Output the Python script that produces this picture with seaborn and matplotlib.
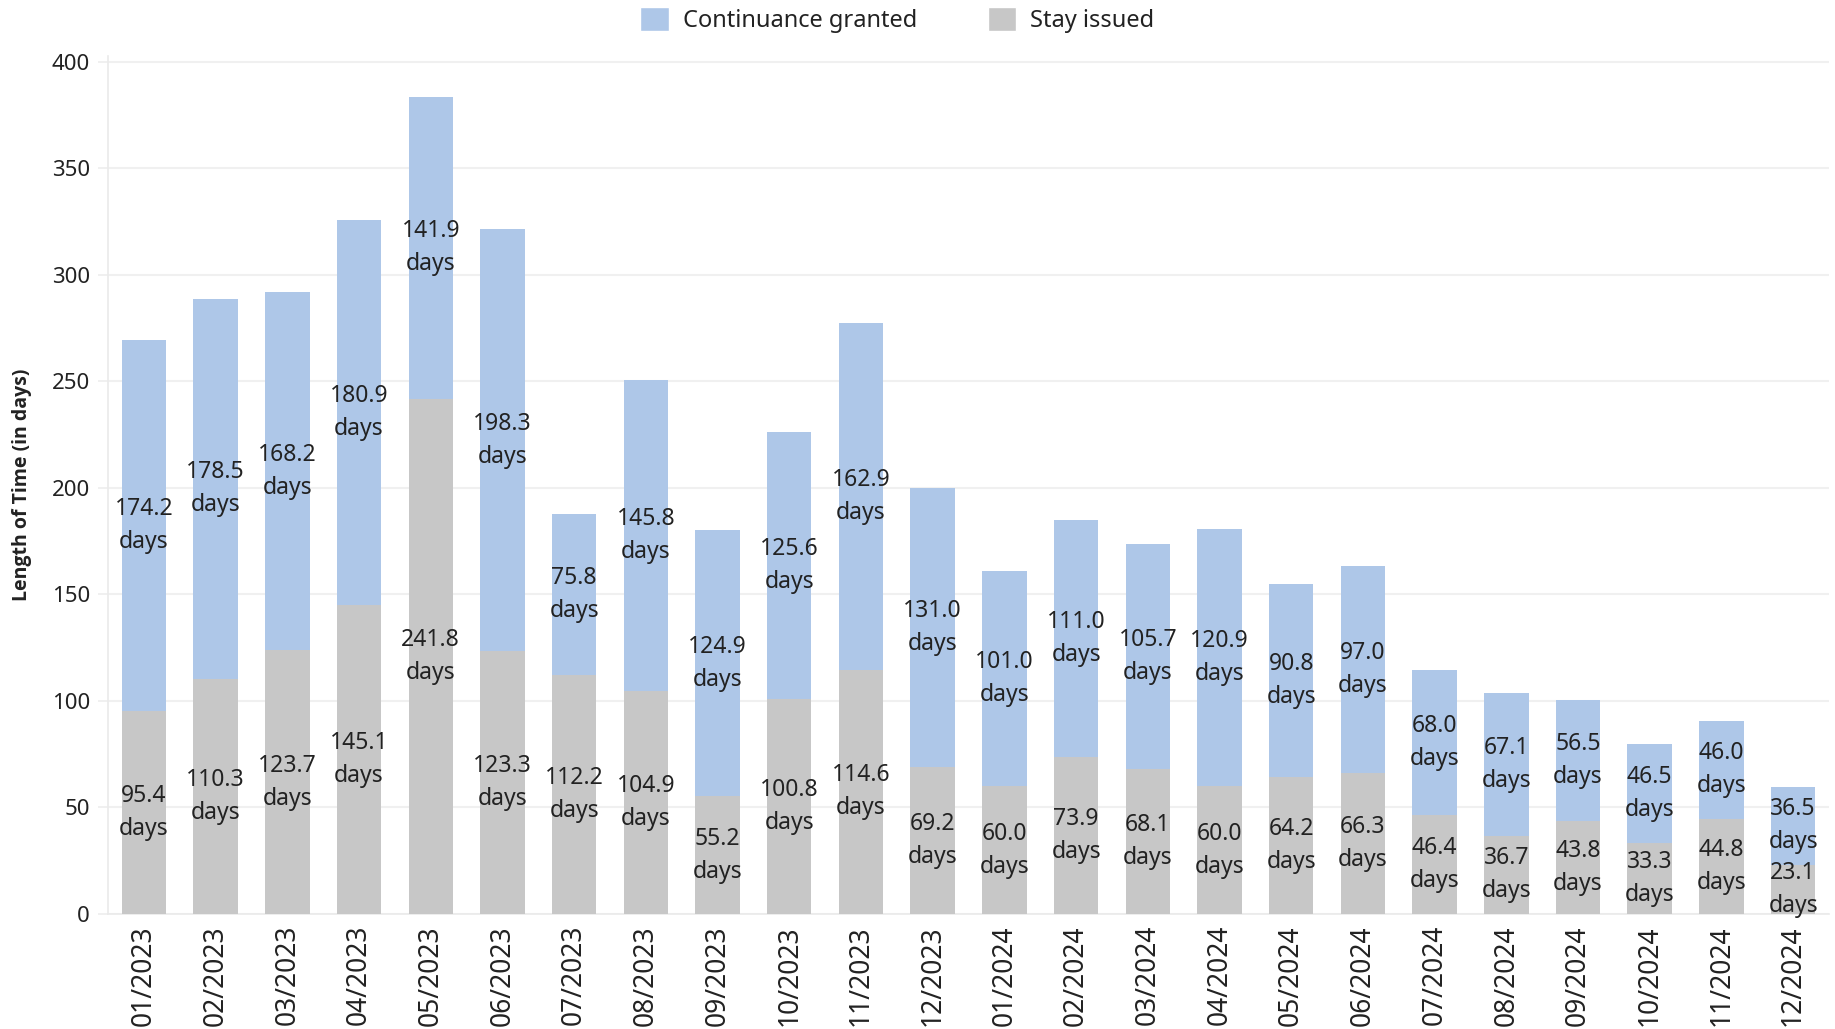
import pandas as pd
import numpy as np
import seaborn as sns
import matplotlib.pyplot as plt
from matplotlib.patches import Patch
from matplotlib.ticker import FixedLocator

# Monthly values
months = ["01/2023", "02/2023", "03/2023", "04/2023", "05/2023", "06/2023",
          "07/2023", "08/2023", "09/2023", "10/2023", "11/2023", "12/2023",
          "01/2024", "02/2024", "03/2024", "04/2024", "05/2024", "06/2024",
          "07/2024", "08/2024", "09/2024", "10/2024", "11/2024", "12/2024"]
stay_issued = [95.4, 110.3, 123.7, 145.1, 241.8, 123.3, 112.2, 104.9, 55.2, 100.8,
               114.6, 69.2, 60.0, 73.9, 68.1, 60.0, 64.2, 66.3, 46.4, 36.7,
               43.8, 33.3, 44.8, 23.1]
continuance = [174.2, 178.5, 168.2, 180.9, 141.9, 198.3, 75.8, 145.8, 124.9, 125.6,
               162.9, 131.0, 101.0, 111.0, 105.7, 120.9, 90.8, 97.0, 68.0, 67.1,
               56.5, 46.5, 46.0, 36.5]
y_ticks = [0, 50, 100, 150, 200, 250, 300, 350, 400]

df = pd.DataFrame({"month": months, "stay": stay_issued, "cont": continuance})
df["total"] = df["stay"] + df["cont"]

blue = "#aec7e8"
grey = "#c7c7c7"
txt = "#222222"

sns.set_theme(style="white")
plt.rcParams["font.family"] = ["Noto Sans", "DejaVu Sans"]

fig = plt.figure(figsize=(18.35, 10.29), dpi=100)
ax = fig.add_axes([0.0589, 0.1118, 0.9378, 0.8338])

# stacked bars: total in blue, stay issued drawn over it in grey
sns.barplot(data=df, x="month", y="total", color=blue, width=0.62, saturation=1,
            edgecolor="none", linewidth=0, ax=ax, zorder=2)
sns.barplot(data=df, x="month", y="stay", color=grey, width=0.62, saturation=1,
            edgecolor="none", linewidth=0, ax=ax, zorder=3)

for i, row in df.iterrows():
    ax.text(i, row["stay"] / 2, f"{row['stay']:.1f}\ndays", ha="center", va="center",
            fontsize=16.5, color=txt, linespacing=1.5, zorder=5)
    ax.text(i, row["stay"] + row["cont"] / 2, f"{row['cont']:.1f}\ndays", ha="center",
            va="center", fontsize=16.5, color=txt, linespacing=1.5, zorder=5)

ax.set_xlim(-0.5, len(months) - 0.5)
ax.set_ylim(0, 402.8)
ax.set_yticks(y_ticks)
ax.set_yticklabels([str(t) for t in y_ticks], fontsize=16, color=txt)
ax.grid(axis="y", color="#f0f0f0", linewidth=1.5, zorder=0)
ax.set_axisbelow(True)

ax.set_xlabel("")
ax.set_ylabel("Length of Time (in days)", fontsize=14, fontweight="bold", color=txt,
              labelpad=14, family=["Open Sans", "DejaVu Sans"])
ax.tick_params(axis="x", which="major", length=0, labelsize=19, labelcolor=txt, rotation=90, pad=8)
ax.xaxis.set_minor_locator(FixedLocator(np.arange(-0.5, len(months), 1.0)))
ax.tick_params(axis="x", which="minor", length=12, color="#e6e6e6", width=1.2)
ax.tick_params(axis="y", length=7, color="#eeeeee", width=1.2, left=True, pad=6)

for s in ["top", "right"]:
    ax.spines[s].set_visible(False)
for s in ["left", "bottom"]:
    ax.spines[s].set_color("#eaeaea")
    ax.spines[s].set_linewidth(1.2)

handles = [Patch(facecolor=blue, label="Continuance granted"),
           Patch(facecolor=grey, label="Stay issued")]
fig.legend(handles=handles, loc="center", bbox_to_anchor=(0.489, 0.981), ncol=2,
           frameon=False, fontsize=17, handlelength=1.2, handleheight=1.2,
           columnspacing=3.0, handletextpad=0.6, labelcolor=txt)

fig.savefig("out.png", dpi=100)
